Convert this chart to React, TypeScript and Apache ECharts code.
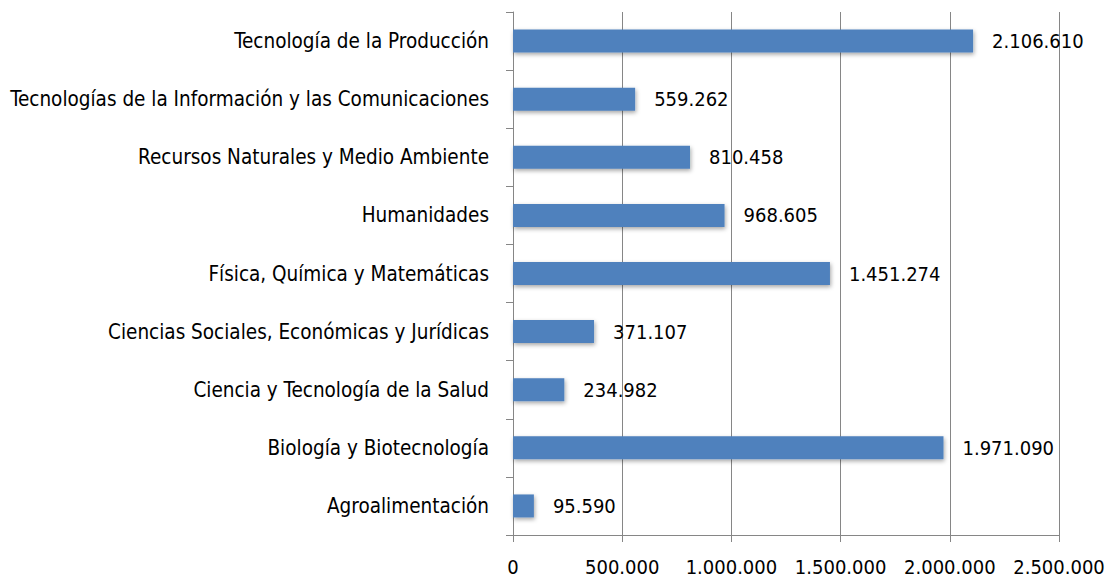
import React, { useEffect, useRef } from "react";
import * as echarts from "echarts";

const categories = [
  "Agroalimentación",
  "Biología y Biotecnología",
  "Ciencia y Tecnología de la Salud",
  "Ciencias Sociales, Económicas y Jurídicas",
  "Física, Química y Matemáticas",
  "Humanidades",
  "Recursos Naturales y Medio Ambiente",
  "Tecnologías de la Información y las Comunicaciones",
  "Tecnología de la Producción",
];
const values = [95590, 1971090, 234982, 371107, 1451274, 968605, 810458, 559262, 2106610];

const FONT = "'Liberation Sans Narrow', 'DejaVu Sans Condensed', 'Noto Sans', sans-serif";

const fmt = (v: number) => String(Math.round(v)).replace(/\B(?=(\d{3})+(?!\d))/g, ".");

export default function App() {
  const ref = useRef<HTMLDivElement>(null);
  useEffect(() => {
    const chart = echarts.init(ref.current!, null, { renderer: "svg" });
    chart.setOption({
      animation: false,
      grid: { left: 513, right: 51, top: 12, bottom: 47, containLabel: false },
      xAxis: {
        type: "value",
        min: 0,
        max: 2500000,
        interval: 500000,
        axisLine: { show: true, lineStyle: { color: "#868686", width: 1 } },
        axisTick: { show: true, length: 7, lineStyle: { color: "#868686" } },
        splitLine: { show: true, lineStyle: { color: "#868686", width: 1 } },
        axisLabel: { color: "#000", fontSize: 20, fontFamily: FONT, margin: 22, formatter: (v: number) => fmt(v) },
      },
      yAxis: {
        type: "category",
        data: categories,
        axisLine: { show: true, lineStyle: { color: "#868686", width: 1 } },
        axisTick: { show: true, length: 7, lineStyle: { color: "#868686" } },
        axisLabel: { color: "#000", fontSize: 20.5, fontFamily: FONT, margin: 24 },
      },
      series: [
        {
          type: "bar",
          data: values,
          barWidth: 23,
          itemStyle: {
            color: "#4F81BD",
            shadowColor: "rgba(0,0,0,0.35)",
            shadowBlur: 4,
            shadowOffsetX: 1,
            shadowOffsetY: 2,
          },
          label: {
            show: true,
            position: "right",
            distance: 19,
            color: "#000",
            fontSize: 20,
            fontFamily: FONT,
            formatter: (p: any) => fmt(p.value),
          },
        },
      ],
    });
    return () => chart.dispose();
  }, []);
  return <div ref={ref} style={{ width: 1110, height: 582, position: "absolute", left: 0, top: 0 }} />;
}
